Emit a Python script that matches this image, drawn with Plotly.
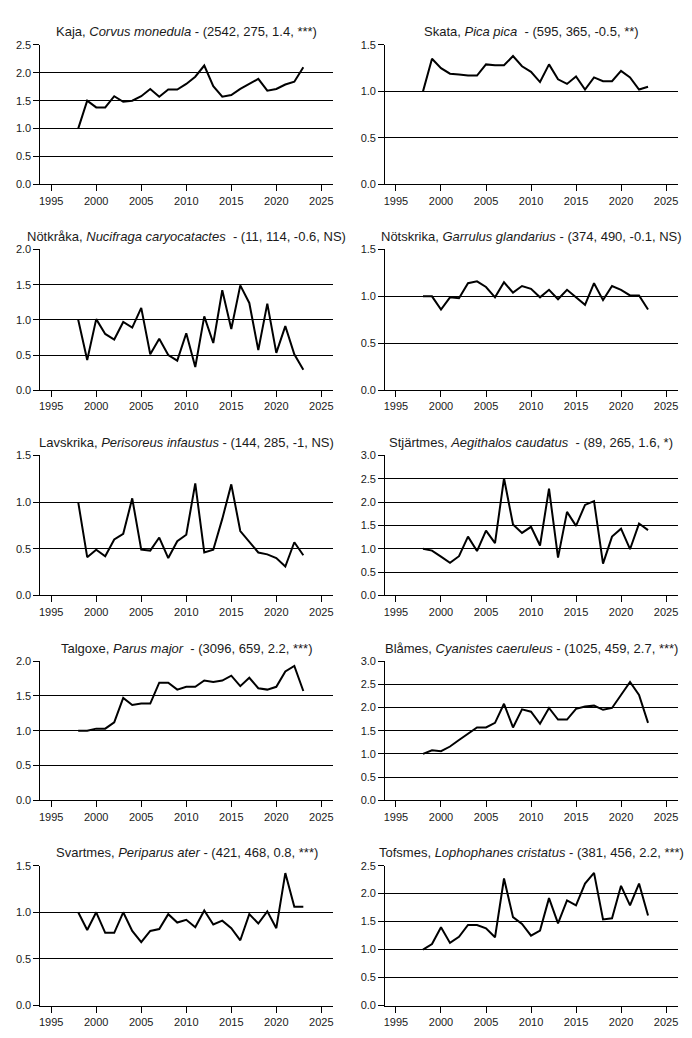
import plotly.graph_objects as go

years = list(range(1998, 2024))

swedish_names = ["Kaja", "Skata", "Nötkråka", "Nötskrika", "Lavskrika",
                 "Stjärtmes", "Talgoxe", "Blåmes", "Svartmes", "Tofsmes"]
latin_names = ["Corvus monedula", "Pica pica", "Nucifraga caryocatactes",
               "Garrulus glandarius", "Perisoreus infaustus", "Aegithalos caudatus",
               "Parus major", "Cyanistes caeruleus", "Periparus ater",
               "Lophophanes cristatus"]
separators = [" - ", "\u00a0 - ", "\u00a0 - ", " - ", " - ",
              "\u00a0 - ", "\u00a0 - ", " - ", " - ", " - "]
stats = ["(2542, 275, 1.4, ***)", "(595, 365, -0.5, **)", "(11, 114, -0.6, NS)",
         "(374, 490, -0.1, NS)", "(144, 285, -1, NS)", "(89, 265, 1.6, *)",
         "(3096, 659, 2.2, ***)", "(1025, 459, 2.7, ***)", "(421, 468, 0.8, ***)",
         "(381, 456, 2.2, ***)"]
y_max = [2.5, 1.5, 2.0, 1.5, 1.5, 3.0, 2.0, 3.0, 1.5, 2.5]

kaja = [1.0, 1.50, 1.38, 1.38, 1.58, 1.48, 1.50, 1.58, 1.71, 1.57, 1.70, 1.70, 1.80,
        1.93, 2.13, 1.76, 1.57, 1.60, 1.71, 1.80, 1.89, 1.68, 1.71, 1.79, 1.84, 2.10]
skata = [1.0, 1.35, 1.25, 1.19, 1.18, 1.17, 1.17, 1.29, 1.28, 1.28, 1.38, 1.27, 1.21,
         1.10, 1.29, 1.13, 1.08, 1.16, 1.02, 1.15, 1.11, 1.11, 1.22, 1.15, 1.02, 1.05]
notkraka = [1.0, 0.43, 1.01, 0.80, 0.72, 0.97, 0.89, 1.17, 0.51, 0.73, 0.50, 0.42, 0.81,
            0.33, 1.05, 0.67, 1.42, 0.87, 1.49, 1.24, 0.57, 1.23, 0.53, 0.91, 0.51, 0.29]
notskrika = [1.0, 1.0, 0.86, 0.99, 0.98, 1.14, 1.16, 1.10, 0.99, 1.15, 1.04, 1.11, 1.08,
             0.99, 1.07, 0.97, 1.07, 0.99, 0.91, 1.14, 0.96, 1.11, 1.07, 1.01, 1.01, 0.86]
lavskrika = [1.0, 0.41, 0.49, 0.42, 0.60, 0.66, 1.04, 0.49, 0.48, 0.62, 0.40, 0.58, 0.65,
             1.20, 0.46, 0.49, 0.82, 1.19, 0.69, 0.58, 0.46, 0.44, 0.40, 0.31, 0.57, 0.43]
stjartmes = [1.0, 0.96, 0.83, 0.70, 0.84, 1.26, 0.95, 1.39, 1.12, 2.51, 1.52, 1.34, 1.47,
             1.07, 2.29, 0.81, 1.79, 1.49, 1.94, 2.02, 0.68, 1.26, 1.43, 0.99, 1.54, 1.40]
talgoxe = [1.0, 1.0, 1.03, 1.03, 1.12, 1.47, 1.37, 1.39, 1.39, 1.69, 1.69, 1.59, 1.63,
           1.63, 1.72, 1.70, 1.72, 1.79, 1.64, 1.76, 1.61, 1.59, 1.63, 1.85, 1.93, 1.57]
blames = [1.0, 1.08, 1.06, 1.16, 1.30, 1.43, 1.57, 1.57, 1.67, 2.08, 1.57, 1.96, 1.91,
          1.65, 1.99, 1.74, 1.74, 1.97, 2.02, 2.04, 1.95, 1.99, 2.27, 2.55, 2.27, 1.67]
svartmes = [1.0, 0.81, 1.0, 0.78, 0.78, 1.0, 0.80, 0.68, 0.80, 0.82, 0.98, 0.89, 0.92,
            0.84, 1.02, 0.87, 0.91, 0.83, 0.70, 0.98, 0.88, 1.01, 0.83, 1.42, 1.06, 1.06]
tofsmes = [1.0, 1.10, 1.40, 1.12, 1.23, 1.44, 1.44, 1.38, 1.22, 2.27, 1.58, 1.46, 1.25,
           1.34, 1.92, 1.47, 1.88, 1.79, 2.18, 2.37, 1.54, 1.56, 2.14, 1.79, 2.18, 1.61]

series = [kaja, skata, notkraka, notskrika, lavskrika,
          stjartmes, talgoxe, blames, svartmes, tofsmes]

W, H = 692, 1038
col_px = [(39.5, 333.0), (385.3, 678.7)]
row_px = [(39.3, 180.5), (246.3, 388.7), (454.7, 596.3), (662.7, 803.7), (869.7, 1011.3)]

FONT = "Liberation Sans, Arial, sans-serif"
fig = go.Figure()
layout = dict(width=W, height=H, margin=dict(l=0, r=0, t=0, b=0),
              paper_bgcolor="white", plot_bgcolor="white", showlegend=False,
              font=dict(family=FONT, color="#1a1a1a"))
annotations = []
for i in range(10):
    r, c = divmod(i, 2)
    xa = "x" if i == 0 else f"x{i+1}"
    ya = "y" if i == 0 else f"y{i+1}"
    xkey = "xaxis" if i == 0 else f"xaxis{i+1}"
    ykey = "yaxis" if i == 0 else f"yaxis{i+1}"
    x0, x1 = col_px[c]
    top, bot = row_px[r]
    fig.add_trace(go.Scatter(x=years, y=series[i], mode="lines",
                             line=dict(color="black", width=2),
                             xaxis=xa, yaxis=ya, hoverinfo="x+y"))
    layout[xkey] = dict(domain=[x0 / W, x1 / W], anchor=ya, range=[1993.8, 2026.3],
                        tickvals=[1995, 2000, 2005, 2010, 2015, 2020, 2025],
                        ticks="outside", ticklen=6, tickcolor="black",
                        showline=True, linecolor="black", linewidth=1,
                        showgrid=False, zeroline=False, fixedrange=True,
                        tickfont=dict(size=11, color="#1a1a1a", family=FONT))
    ym = y_max[i]
    layout[ykey] = dict(domain=[1 - bot / H, 1 - top / H], anchor=xa, range=[0, ym],
                        tickvals=[k * 0.5 for k in range(int(ym / 0.5) + 1)],
                        tickformat=".1f", ticks="outside", ticklen=6, tickcolor="black",
                        showline=True, linecolor="black", linewidth=1,
                        showgrid=True, gridcolor="black", gridwidth=1.2,
                        zeroline=False, fixedrange=True,
                        tickfont=dict(size=11, color="#1a1a1a", family=FONT))
    title = f"{swedish_names[i]}, <i>{latin_names[i]}</i>{separators[i]}{stats[i]}"
    annotations.append(dict(text=title, x=(x0 + x1) / 2 / W, y=1 - (top - 13) / H,
                            xref="paper", yref="paper", xanchor="center",
                            yanchor="middle", showarrow=False,
                            font=dict(size=13, family=FONT, color="#1a1a1a")))
layout["annotations"] = annotations
fig.update_layout(**layout)
fig.write_html("out.html", config={"displayModeBar": False},
               post_script="document.body.style.margin='0';document.body.style.overflow='hidden';")
